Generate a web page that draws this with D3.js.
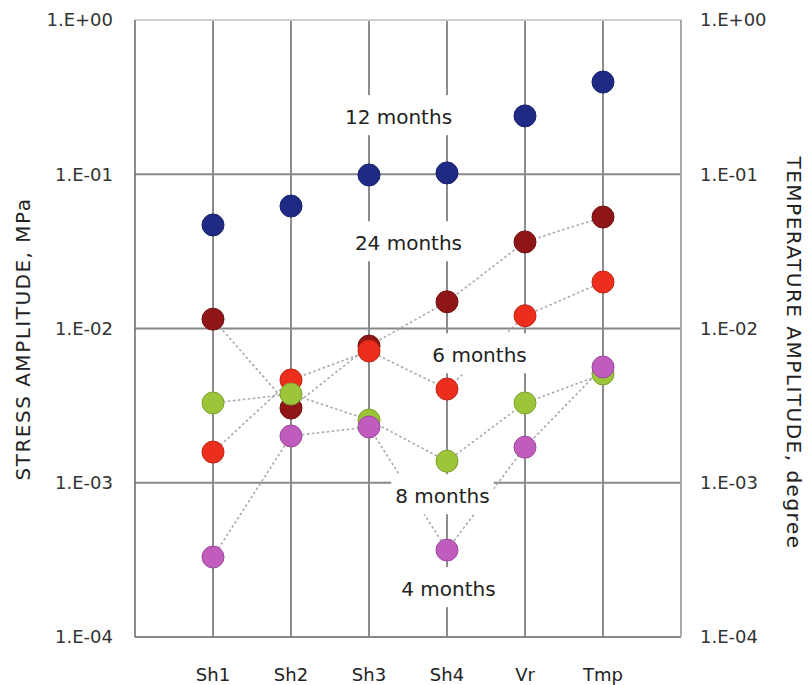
<!DOCTYPE html>
<html>
<head>
<meta charset="utf-8">
<script src="https://cdn.jsdelivr.net/npm/d3@7"></script>
<style>
  html, body { margin: 0; padding: 0; background: #fff; }
  svg { display: block; font-family: "DejaVu Sans", sans-serif; }
</style>
</head>
<body>
<div id="chart"></div>
<script>
// Categories along the x axis
const categories = ['Sh1', 'Sh2', 'Sh3', 'Sh4', 'Vr', 'Tmp'];

// Amplitude values per period (log scale)
const months12 = [0.0469, 0.0622, 0.0989, 0.102, 0.239, 0.396];
const months24 = [0.0115, 0.00305, 0.0077, 0.0149, 0.0364, 0.0528];
const months6 = [0.00158, 0.00464, 0.00715, 0.00405, 0.0121, 0.0200];
const months8 = [0.00329, 0.00376, 0.00255, 0.00138, 0.00329, 0.00507];
const months4 = [0.00033, 0.00201, 0.0023, 0.000366, 0.0017, 0.00563];

// Tick values and their labels (same on both sides)
const tickValues = [1, 0.1, 0.01, 0.001, 0.0001];
const tickLabels = ['1.E+00', '1.E-01', '1.E-02', '1.E-03', '1.E-04'];

// Period labels: text, position (category index, value)
const labelTexts = ['12 months', '24 months', '6 months', '8 months', '4 months'];
const labelIdx = [2.378, 2.506, 3.417, 2.942, 3.019];
const labelVals = [0.235, 0.0358, 0.00673, 0.00082, 0.000205];

// Series drawing order: dark red under red, green under purple
const series = [
  { name: '12 months', values: months12, color: '#1e2a84', connect: false },
  { name: '24 months', values: months24, color: '#8f1616', connect: true },
  { name: '6 months', values: months6, color: '#ec2e1c', connect: true },
  { name: '8 months', values: months8, color: '#9dc53a', connect: true },
  { name: '4 months', values: months4, color: '#c05cbd', connect: true }
];

const width = 810;
const height = 685;
const plot = { left: 135, right: 681, top: 20, bottom: 637 };

const svg = d3.select('#chart')
  .append('svg')
  .attr('width', width)
  .attr('height', height);

const x = d3.scalePoint()
  .domain(categories)
  .range([plot.left, plot.right])
  .padding(1);

// fractional category index -> pixel, used for the period labels
const xIdx = d3.scaleLinear()
  .domain([0, categories.length - 1])
  .range([x(categories[0]), x(categories[categories.length - 1])]);

const y = d3.scaleLog()
  .domain([1e-4, 1])
  .range([plot.bottom, plot.top]);

// --- grid and frame ---
const grid = svg.append('g');

// vertical lines at each category
grid.selectAll('line.cat')
  .data(categories)
  .enter()
  .append('line')
  .attr('class', 'cat')
  .attr('x1', d => x(d))
  .attr('x2', d => x(d))
  .attr('y1', plot.top)
  .attr('y2', plot.bottom)
  .attr('stroke', '#666')
  .attr('stroke-width', 1.5);

// horizontal decade lines
grid.selectAll('line.dec')
  .data(tickValues)
  .enter()
  .append('line')
  .attr('class', 'dec')
  .attr('x1', plot.left)
  .attr('x2', plot.right)
  .attr('y1', d => y(d))
  .attr('y2', d => y(d))
  .attr('stroke', d => d === 1 ? '#cfcfcf' : '#888')
  .attr('stroke-width', 2);

// left and right borders
grid.append('line')
  .attr('x1', plot.left).attr('x2', plot.left)
  .attr('y1', plot.top).attr('y2', plot.bottom)
  .attr('stroke', '#666').attr('stroke-width', 1.5);
grid.append('line')
  .attr('x1', plot.right).attr('x2', plot.right)
  .attr('y1', plot.top).attr('y2', plot.bottom)
  .attr('stroke', '#aaa').attr('stroke-width', 2);

// --- dotted connectors ---
const line = d3.line()
  .x((d, i) => x(categories[i]))
  .y(d => y(d));

svg.append('g')
  .selectAll('path')
  .data(series.filter(s => s.connect))
  .enter()
  .append('path')
  .attr('d', s => line(s.values))
  .attr('fill', 'none')
  .attr('stroke', '#a8a8a8')
  .attr('stroke-width', 1.6)
  .attr('stroke-dasharray', '2.5,2.5');

// --- white boxes behind period labels (cut the lines) ---
const labelData = labelTexts.map((t, i) => ({ text: t, idx: labelIdx[i], value: labelVals[i] }));

const labelG = svg.append('g');
const labelText = labelG.selectAll('text')
  .data(labelData)
  .enter()
  .append('text')
  .attr('x', d => xIdx(d.idx))
  .attr('y', d => y(d.value))
  .attr('dy', '0.36em')
  .attr('text-anchor', 'middle')
  .attr('font-size', 20)
  .attr('fill', '#222')
  .text(d => d.text);

labelText.each(function () {
  const b = this.getBBox();
  labelG.insert('rect', 'text')
    .attr('x', b.x - 4)
    .attr('y', b.y + b.height / 2 - 22)
    .attr('width', b.width + 8)
    .attr('height', 40)
    .attr('fill', '#fff');
});

// --- points ---
series.forEach(s => {
  svg.append('g')
    .selectAll('circle')
    .data(s.values)
    .enter()
    .append('circle')
    .attr('cx', (d, i) => x(categories[i]))
    .attr('cy', d => y(d))
    .attr('r', 11)
    .attr('fill', s.color)
    .attr('stroke', d3.color(s.color).darker(0.6))
    .attr('stroke-width', 1);
});

// keep label text above everything
labelG.raise();

// --- tick labels ---
const ticks = tickValues.map((v, i) => ({ v, label: tickLabels[i] }));

svg.append('g')
  .selectAll('text')
  .data(ticks)
  .enter()
  .append('text')
  .attr('x', 113)
  .attr('y', d => y(d.v))
  .attr('dy', '0.36em')
  .attr('text-anchor', 'end')
  .attr('font-size', 18)
  .attr('fill', '#333')
  .text(d => d.label);

svg.append('g')
  .selectAll('text')
  .data(ticks)
  .enter()
  .append('text')
  .attr('x', 700)
  .attr('y', d => y(d.v))
  .attr('dy', '0.36em')
  .attr('text-anchor', 'start')
  .attr('font-size', 18)
  .attr('fill', '#333')
  .text(d => d.label);

// category labels
svg.append('g')
  .selectAll('text')
  .data(categories)
  .enter()
  .append('text')
  .attr('x', d => x(d))
  .attr('y', 681)
  .attr('text-anchor', 'middle')
  .attr('font-size', 18)
  .attr('fill', '#222')
  .text(d => d);

// axis titles
svg.append('text')
  .attr('transform', 'translate(30,339) rotate(-90)')
  .attr('text-anchor', 'middle')
  .attr('font-size', 20)
  .attr('letter-spacing', 1.5)
  .attr('fill', '#222')
  .text('STRESS AMPLITUDE, MPa');

svg.append('text')
  .attr('transform', 'translate(787,353) rotate(90)')
  .attr('text-anchor', 'middle')
  .attr('font-size', 20)
  .attr('letter-spacing', 1.5)
  .attr('fill', '#222')
  .text('TEMPERATURE AMPLITUDE, degree');
</script>
</body>
</html>
